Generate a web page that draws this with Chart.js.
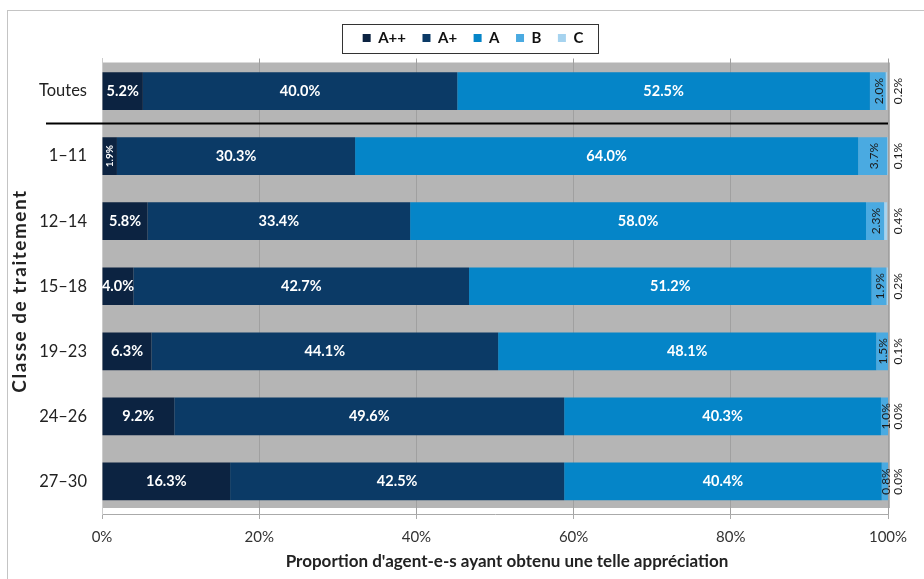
<!DOCTYPE html>
<html><head><meta charset="utf-8">
<script src="https://cdn.jsdelivr.net/npm/chart.js@4/dist/chart.umd.min.js"></script>
<style>html,body{margin:0;padding:0;background:#fff}#wrap{width:924px;height:579px}</style>
</head><body><div id="wrap"><canvas id="c" width="924" height="579"></canvas></div>
<script>
const categories = ['Toutes', '1–11', '12–14', '15–18', '19–23', '24–26', '27–30'];
const seriesNames = ['A++', 'A+', 'A', 'B', 'C'];
const valuesAPP = [5.2, 1.9, 5.8, 4.0, 6.3, 9.2, 16.3];
const valuesAP  = [40.0, 30.3, 33.4, 42.7, 44.1, 49.6, 42.5];
const valuesA   = [52.5, 64.0, 58.0, 51.2, 48.1, 40.3, 40.4];
const valuesB   = [2.0, 3.7, 2.3, 1.9, 1.5, 1.0, 0.8];
const valuesC   = [0.2, 0.1, 0.4, 0.2, 0.1, 0.0, 0.0];
const xTickValues = [0, 20, 40, 60, 80, 100];
const xTitle = "Proportion d'agent-e-s ayant obtenu une telle appréciation";
const yTitle = 'Classe de traitement';
const seriesColors = ['#0c2341', '#0b3a66', '#0585c8', '#4aaae1', '#a6d3ef'];
const FONT = 'Lato';

const seriesValues = [valuesAPP, valuesAP, valuesA, valuesB, valuesC];

const framePlugin = {
  id: 'frame',
  afterLayout(chart) {
    const lg = chart.legend;
    if (lg) { const dx = 25, dy = -3; lg.left += dx; lg.right += dx; lg.top += dy; lg.bottom += dy; }
  },
  beforeDraw(chart) {
    const ctx = chart.ctx, a = chart.chartArea;
    ctx.save();
    ctx.strokeStyle = '#c4c4c4';
    ctx.lineWidth = 1;
    ctx.strokeRect(7.5, 10.5, 960, 700);
    ctx.fillStyle = '#b5b5b5';
    ctx.fillRect(a.left, a.top + 4, a.right - a.left + 2, a.bottom - a.top - 10);
    ctx.restore();
  },
  afterDraw(chart) {
    const ctx = chart.ctx, a = chart.chartArea;
    const lg = chart.legend;
    ctx.save();
    if (lg && lg.legendHitBoxes && lg.legendHitBoxes.length) {
      const hb = lg.legendHitBoxes;
      const x0 = hb[0].left - 21;
      const x1 = hb[hb.length - 1].left + hb[hb.length - 1].width + 14;
      ctx.strokeStyle = '#333';
      ctx.lineWidth = 1;
      ctx.strokeRect(Math.round(x0) + 0.5, 24.5, Math.round(x1 - x0), 29);
    }
    ctx.fillStyle = '#222';
    ctx.textAlign = 'center';
    ctx.textBaseline = 'middle';
    ctx.font = 'bold 17px ' + FONT;
    ctx.fillText(xTitle, (a.left + a.right) / 2 + 12, 562);
    ctx.save();
    ctx.translate(20, 291);
    ctx.rotate(-Math.PI / 2);
    ctx.font = 'bold 19px ' + FONT;
    ctx.letterSpacing = '1.5px';
    ctx.fillText(yTitle, 0, 0);
    ctx.restore();
    ctx.restore();
  }
};

const labelPlugin = {
  id: 'segLabels',
  afterDatasetsDraw(chart) {
    const ctx = chart.ctx, a = chart.chartArea;
    const ys = chart.scales.y;
    ctx.save();
    const sepY = (ys.getPixelForValue(0) + ys.getPixelForValue(1)) / 2;
    ctx.strokeStyle = '#000';
    ctx.lineWidth = 2;
    ctx.beginPath();
    ctx.moveTo(46, sepY);
    ctx.lineTo(a.right, sepY);
    ctx.stroke();

    chart.data.datasets.forEach((ds, i) => {
      const meta = chart.getDatasetMeta(i);
      meta.data.forEach((bar, j) => {
        const v = ds.data[j];
        const txt = v.toFixed(1) + '%';
        const left = Math.min(bar.x, bar.base), right = Math.max(bar.x, bar.base);
        const cx = (left + right) / 2, cy = bar.y;
        ctx.textAlign = 'center';
        ctx.textBaseline = 'middle';
        if (i <= 2) {
          ctx.fillStyle = '#fff';
          if (right - left < 18) {
            ctx.font = 'bold 10px ' + FONT;
            ctx.save(); ctx.translate(cx, cy); ctx.rotate(-Math.PI / 2);
            ctx.fillText(txt, 0, 0); ctx.restore();
          } else {
            ctx.font = 'bold 14.5px ' + FONT;
            ctx.fillText(txt, cx, cy);
          }
        } else if (i === 3) {
          ctx.fillStyle = '#1a1a1a';
          ctx.font = '12px ' + FONT;
          ctx.save(); ctx.translate(cx + 1, cy); ctx.rotate(-Math.PI / 2);
          ctx.fillText(txt, 0, 0); ctx.restore();
        } else {
          ctx.fillStyle = '#1a1a1a';
          ctx.font = '12px ' + FONT;
          ctx.save(); ctx.translate(a.right + 10, cy); ctx.rotate(-Math.PI / 2);
          ctx.fillText(txt, 0, 0); ctx.restore();
        }
      });
    });
    ctx.restore();
  }
};

new Chart(document.getElementById('c'), {
  type: 'bar',
  data: {
    labels: categories,
    datasets: seriesNames.map((n, i) => ({
      label: n,
      data: seriesValues[i],
      backgroundColor: seriesColors[i],
      borderWidth: 0,
      barPercentage: 0.58,
      categoryPercentage: 1
    }))
  },
  options: {
    indexAxis: 'y',
    responsive: false,
    animation: false,
    layout: { padding: { left: 8, right: 36, top: 17, bottom: 8 } },
    plugins: {
      tooltip: { enabled: false },
      legend: {
        position: 'top',
        labels: {
          boxWidth: 8, boxHeight: 8, padding: 16.5,
          color: '#111',
          font: { family: FONT, size: 15, weight: 'bold' }
        }
      }
    },
    scales: {
      x: {
        stacked: true, min: 0, max: 100,
        afterBuildTicks(s) { s.ticks = xTickValues.map(v => ({ value: v })); },
        afterFit(s) { s.height = 57; },
        grid: { color: '#a0a0a0', tickLength: 5, tickColor: '#aaa' },
        border: { color: '#aaa' },
        ticks: {
          callback: v => v + '%', padding: 9, color: '#333',
          font: { family: FONT, size: 15 }
        },
        title: { display: false }
      },
      y: {
        stacked: true,
        afterFit(s) { s.width = 94; },
        grid: { display: false, drawTicks: false },
        border: { color: '#ccc' },
        ticks: { padding: 15, color: '#222', font: { family: FONT, size: 16.5 } },
        title: { display: false }
      }
    }
  },
  plugins: [framePlugin, labelPlugin]
});
</script>
</body></html>
